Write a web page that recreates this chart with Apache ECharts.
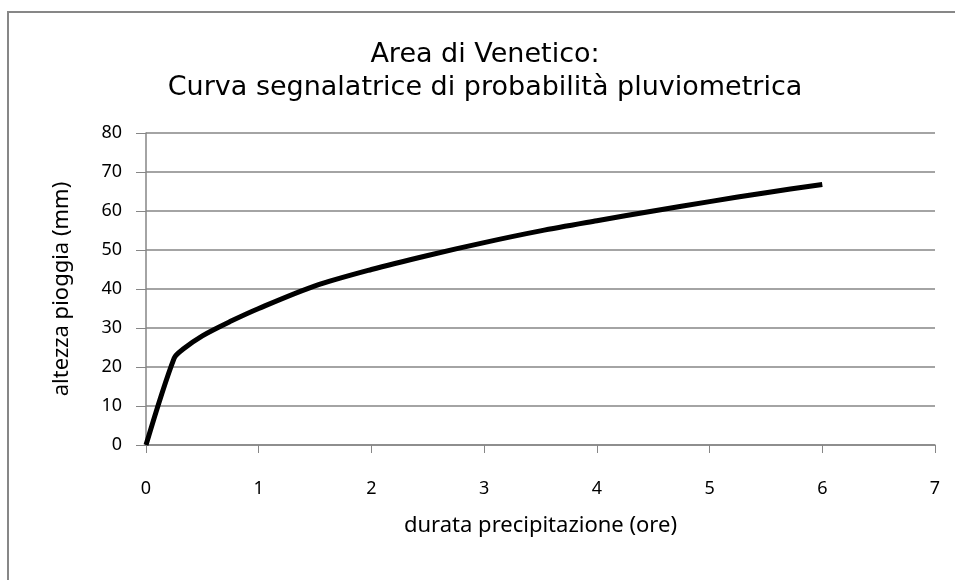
<!DOCTYPE html>
<html>
<head>
<meta charset="utf-8">
<script src="https://cdn.jsdelivr.net/npm/echarts@6/dist/echarts.min.js"></script>
<style>
  html, body { margin: 0; padding: 0; background: #fff; }
  #frame { position: absolute; left: 7px; top: 11px; width: 960px; height: 580px;
           border-left: 2px solid #878787; border-top: 2px solid #878787; }
  #main { width: 955px; height: 580px; position: absolute; left: 0; top: 0; }
</style>
</head>
<body>
<div id="frame"></div>
<div id="main"></div>
<script>
  // durata (ore) e altezza pioggia (mm)
  const durata  = [0, 0.25, 0.33, 0.5, 0.75, 1, 1.5, 2, 2.5, 3, 3.5, 4, 4.5, 5, 5.5, 6];
  const altezza = [0, 22.3, 24.6, 28.0, 31.7, 35.0, 40.8, 45.0, 48.6, 51.9, 54.9, 57.5, 60.0, 62.4, 64.7, 66.8];
  const xTicks = [0, 1, 2, 3, 4, 5, 6, 7];
  const yTicks = [0, 10, 20, 30, 40, 50, 60, 70, 80];

  const titolo = 'Area di Venetico:\nCurva segnalatrice di probabilità pluviometrica';

  let myChart = echarts.init(document.getElementById('main'), null, { renderer: 'canvas' });
  let option = {
    animation: false,
    title: {
      text: titolo,
      left: 480,
      textAlign: 'center',
      top: 33,
      textStyle: {
        fontFamily: 'DejaVu Sans',
        fontWeight: 'normal',
        fontSize: 27,
        lineHeight: 33,
        color: '#000'
      }
    },
    grid: { left: 146, right: 20, top: 133, bottom: 135 },
    xAxis: {
      type: 'value',
      min: 0, max: xTicks[xTicks.length - 1], interval: 1,
      name: 'durata precipitazione (ore)',
      nameLocation: 'middle',
      nameGap: 70,
      nameTextStyle: { fontFamily: 'Noto Sans', fontSize: 22, color: '#000' },
      axisLine: { lineStyle: { color: '#868686', width: 1.5 } },
      axisTick: { show: true, length: 8, lineStyle: { color: '#868686' } },
      axisLabel: { margin: 35, fontFamily: 'Noto Sans', fontSize: 18, color: '#000' },
      splitLine: { show: false }
    },
    yAxis: {
      type: 'value',
      min: 0, max: yTicks[yTicks.length - 1], interval: 10,
      name: 'altezza pioggia (mm)',
      nameLocation: 'middle',
      nameGap: 73,
      nameTextStyle: { fontFamily: 'Noto Sans', fontSize: 22, color: '#000' },
      axisLine: { show: true, lineStyle: { color: '#868686', width: 1.5 } },
      axisTick: { show: true, length: 10, lineStyle: { color: '#868686' } },
      axisLabel: { margin: 24, fontFamily: 'Noto Sans', fontSize: 18, color: '#000' },
      splitLine: { show: true, lineStyle: { color: '#868686', width: 1.5 } }
    },
    series: [
      {
        type: 'line',
        data: durata.map((d, i) => [d, altezza[i]]),
        smooth: 0.3,
        showSymbol: false,
        lineStyle: { color: '#000', width: 5 }
      }
    ]
  };
  myChart.setOption(option);
</script>
</body>
</html>
